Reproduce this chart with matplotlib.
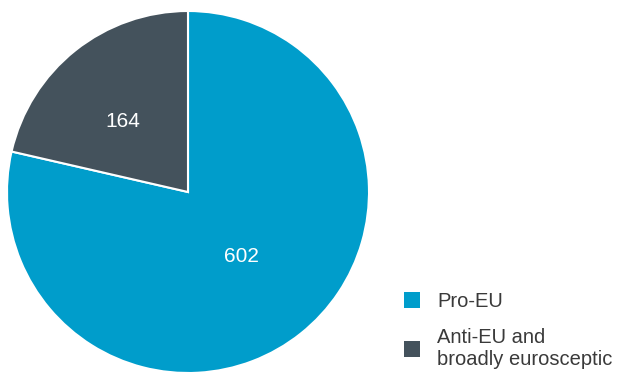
import matplotlib
matplotlib.use("Agg")
import matplotlib.pyplot as plt
import numpy as np
from matplotlib.patches import Patch

categories = ["Pro-EU", "Anti-EU and\nbroadly eurosceptic"]
values = [602, 164]
colors = ["#009DCB", "#44525C"]

plt.rcParams['font.family'] = ['Liberation Sans', 'DejaVu Sans']

W, H = 619, 374
fig = plt.figure(figsize=(W/100, H/100), dpi=100)
ax = fig.add_axes([7/W, 1/H, 362/W, 362/H])
wedges, _ = ax.pie(values, colors=colors, startangle=90, counterclock=False,
                   wedgeprops=dict(edgecolor="white", linewidth=1.5))
ax.set_aspect("equal")
ax.set_xlim(-1, 1); ax.set_ylim(-1, 1)

for w, v, r, da in zip(wedges, values, [0.46, 0.53], [1, 4]):
    ang = np.deg2rad((w.theta1 + w.theta2) / 2 + da)
    ax.text(r * np.cos(ang), r * np.sin(ang), str(v), ha="center", va="center",
            color="white", fontsize=15)

handles = [Patch(facecolor=c, edgecolor="none") for c in colors]
leg = fig.legend(handles, categories, loc="upper left", bbox_to_anchor=(404/W, 1 - 292/H),
                 frameon=False, fontsize=14.5, handlelength=0.8, handleheight=0.8,
                 handletextpad=0.85, labelspacing=0.85, labelcolor="#3a3a3a",
                 borderpad=0, borderaxespad=0)
leg.get_texts()[1].set_linespacing(1.2)
fig.savefig("out.png", dpi=100)
